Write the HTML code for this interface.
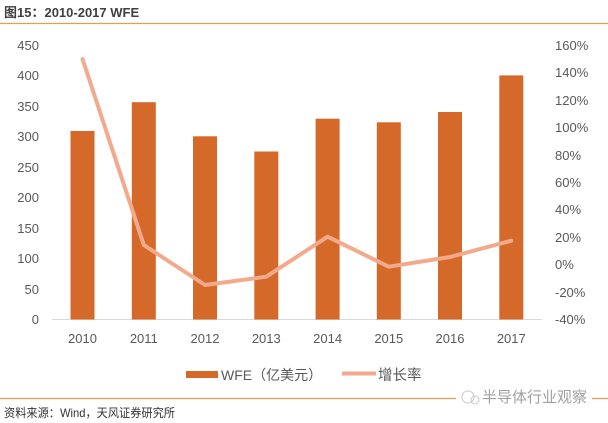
<!DOCTYPE html>
<html><head><meta charset="utf-8"><style>
html,body{margin:0;padding:0;background:#fff;}
svg{display:block;}
text{font-family:"Liberation Sans","Noto Sans CJK SC",sans-serif;}
</style></head><body>
<svg width="608" height="423" viewBox="0 0 608 423" xmlns="http://www.w3.org/2000/svg">
<rect width="608" height="423" fill="#fff"/>
<text x="4" y="17" font-size="13" font-weight="bold" fill="#404040">图15：2010-2017 WFE</text>
<line x1="0" y1="23.5" x2="608" y2="23.5" stroke="#e59c55" stroke-width="1.2"/>

<g font-size="13" fill="#595959" text-anchor="end">
<text x="39" y="50">450</text>
<text x="39" y="80">400</text>
<text x="39" y="111">350</text>
<text x="39" y="141">300</text>
<text x="39" y="172">250</text>
<text x="39" y="202">200</text>
<text x="39" y="233">150</text>
<text x="39" y="263">100</text>
<text x="39" y="294">50</text>
<text x="39" y="324">0</text>
</g>
<g font-size="13" fill="#595959">
<text x="555" y="50">160%</text>
<text x="555" y="77">140%</text>
<text x="555" y="105">120%</text>
<text x="555" y="132">100%</text>
<text x="555" y="160">80%</text>
<text x="555" y="187">60%</text>
<text x="555" y="214">40%</text>
<text x="555" y="242">20%</text>
<text x="555" y="269">0%</text>
<text x="555" y="297">-20%</text>
<text x="555" y="324">-40%</text>
</g>

<line x1="52" y1="319.5" x2="542" y2="319.5" stroke="#d9d9d9" stroke-width="1"/>

<g fill="#d5692a">
<rect x="70.5" y="131" width="24" height="188.5"/>
<rect x="131.8" y="102.2" width="24" height="217.3"/>
<rect x="193" y="136.3" width="24" height="183.2"/>
<rect x="254.3" y="151.5" width="24" height="168"/>
<rect x="315.6" y="118.7" width="24" height="200.8"/>
<rect x="376.8" y="122.3" width="24" height="197.2"/>
<rect x="438" y="112" width="24" height="207.5"/>
<rect x="499.3" y="75.4" width="24" height="244.1"/>
</g>

<polyline points="82.5,59 143.8,245 205,285 266.3,276.7 327.6,236.7 388.8,266.7 450,257 511.3,240.7" fill="none" stroke="#f3aa8c" stroke-width="4" stroke-linejoin="round" stroke-linecap="round"/>

<g font-size="13" fill="#595959" text-anchor="middle">
<text x="82.5" y="343">2010</text>
<text x="143.8" y="343">2011</text>
<text x="205" y="343">2012</text>
<text x="266.3" y="343">2013</text>
<text x="327.6" y="343">2014</text>
<text x="388.8" y="343">2015</text>
<text x="450" y="343">2016</text>
<text x="511.3" y="343">2017</text>
</g>

<rect x="186" y="371" width="32" height="7" fill="#d5692a"/>
<text x="221" y="380" font-size="14" fill="#595959">WFE（亿美元）</text>
<line x1="342" y1="373.5" x2="376" y2="373.5" stroke="#f3aa8c" stroke-width="4"/>
<text x="378" y="380" font-size="14.5" fill="#595959">增长率</text>

<line x1="0" y1="398.5" x2="608" y2="398.5" stroke="#e59c55" stroke-width="1.2"/>
<rect x="456" y="388" width="136" height="20" fill="#fff"/>
<g fill="none" stroke="#c8c8c8" stroke-width="1">
<circle cx="468" cy="397" r="6"/>
<circle cx="475" cy="400" r="4"/>
</g>
<text x="482" y="402" font-size="15" fill="#a0a0a0">半导体行业观察</text>

<text x="4" y="417" font-size="12" fill="#333" textLength="171" lengthAdjust="spacingAndGlyphs">资料来源：Wind，天风证券研究所</text>
</svg>
</body></html>
